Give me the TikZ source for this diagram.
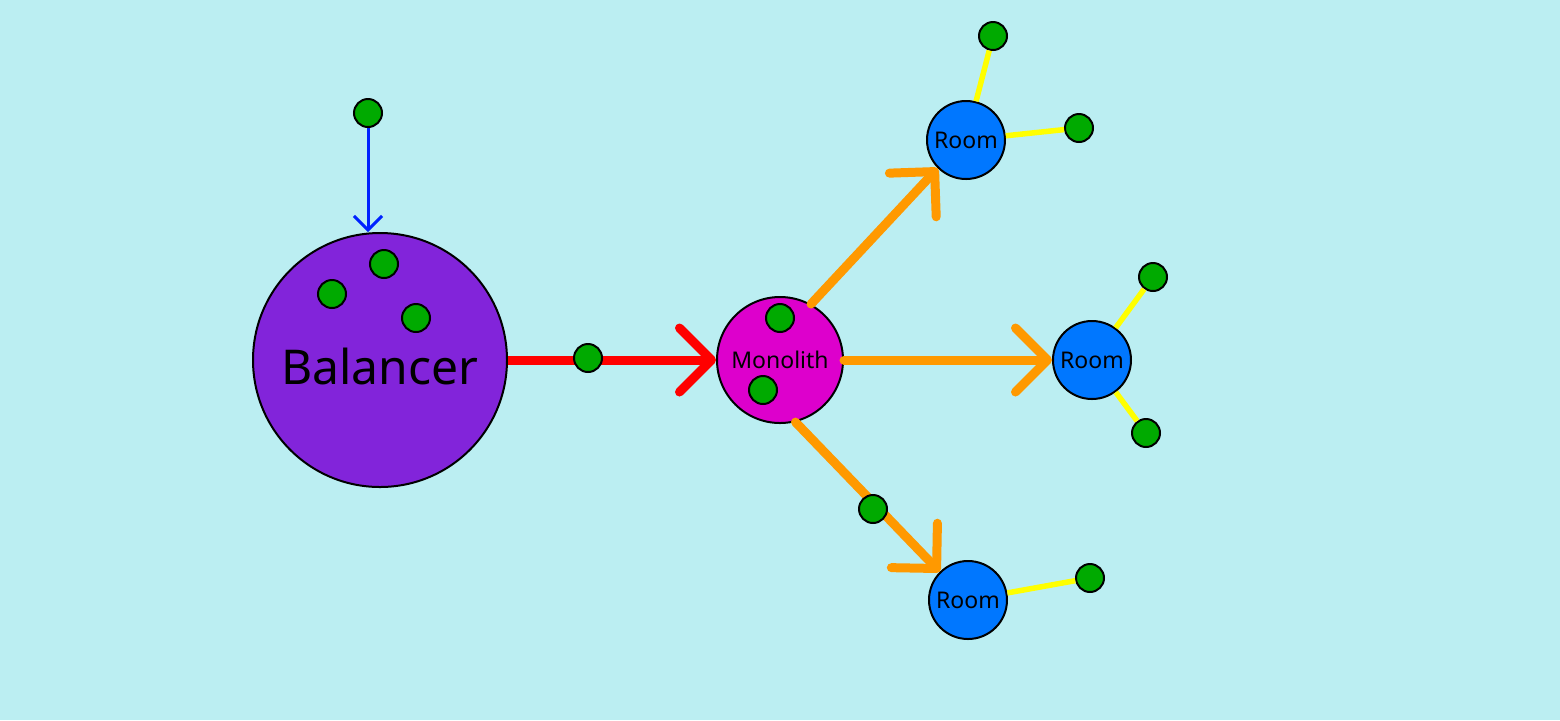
\documentclass[tikz,border=0pt]{standalone}
\usepackage{fontspec}
\setmainfont{Noto Sans}
\usetikzlibrary{arrows.meta}
\definecolor{bg}{RGB}{187,238,242}
\definecolor{balc}{RGB}{130,36,218}
\definecolor{monoc}{RGB}{221,0,204}
\definecolor{roomc}{RGB}{0,119,255}
\definecolor{dotc}{RGB}{0,170,0}
\definecolor{redc}{RGB}{255,0,0}
\definecolor{orc}{RGB}{255,153,0}
\definecolor{yelc}{RGB}{255,255,0}
\definecolor{bluec}{RGB}{0,34,255}
\tikzset{
  circ/.style={circle, draw=black, line width=1pt, inner sep=0pt},
  bal/.style={circ, fill=balc, minimum size=127pt,
    label={[font=\fontsize{24}{28}\selectfont, yshift=-3pt]center:Balancer}},
  mono/.style={circ, fill=monoc, minimum size=63pt, font=\fontsize{11.5}{14}\selectfont},
  room/.style={circ, fill=roomc, minimum size=39pt, font=\fontsize{11.5}{14}\selectfont},
  dot/.style={circ, fill=dotc, minimum size=14pt},
  redline/.style={draw=redc, line width=4.5pt, -{Straight Barb[length=16pt, width=32pt, round]}},
  orline/.style={draw=orc, line width=4.5pt, line cap=round, -{Straight Barb[length=16pt, width=32pt, round]}},
  yelline/.style={draw=yelc, line width=2.75pt},
  blueline/.style={draw=bluec, line width=1.5pt, -{Straight Barb[length=7pt, width=14pt]}},
}
\begin{document}
\begin{tikzpicture}[x=0.5pt, y=-0.5pt]
\fill[bg] (0,0) rectangle (1560,720);
\useasboundingbox (0,0) rectangle (1560,720);
% main nodes
\node[bal] (bal) at (380,360) {};
\node[mono] (mono) at (780,360) {Monolith};
\node[room] (roomT) at (966,140) {Room};
\node[room] (roomM) at (1092,360) {Room};
\node[room] (roomB) at (968,600) {Room};
% leaf dots
\node[dot] (dtop) at (368,113) {};
\node[dot] (b1) at (384,264) {};
\node[dot] (b2) at (332,294) {};
\node[dot] (b3) at (416,318) {};
\node[dot] (m1) at (780,318) {};
\node[dot] (m2) at (763,390) {};
\node[dot] (t1) at (993,36) {};
\node[dot] (t2) at (1079,128) {};
\node[dot] (r1) at (1153,277) {};
\node[dot] (r2) at (1146,433) {};
\node[dot] (u1) at (1090,578) {};
% connectors
\draw[yelline] (roomT) -- (t1);
\draw[yelline] (roomT) -- (t2);
\draw[yelline] (roomM) -- (r1);
\draw[yelline] (roomM) -- (r2);
\draw[yelline] (roomB) -- (u1);
\draw[blueline] (dtop) -- (dtop |- bal.north);
\draw[redline] (bal.east) -- (mono.west);
\draw[orline] (mono.61) -- (roomT.225);
\draw[orline] (mono.east) -- (roomM.west);
\draw[orline] (mono.-76) -- (roomB.135);
% dots on connectors
\node[dot] (c1) at (588,358) {};
\node[dot] (c2) at (873,509) {};
\end{tikzpicture}
\end{document}
